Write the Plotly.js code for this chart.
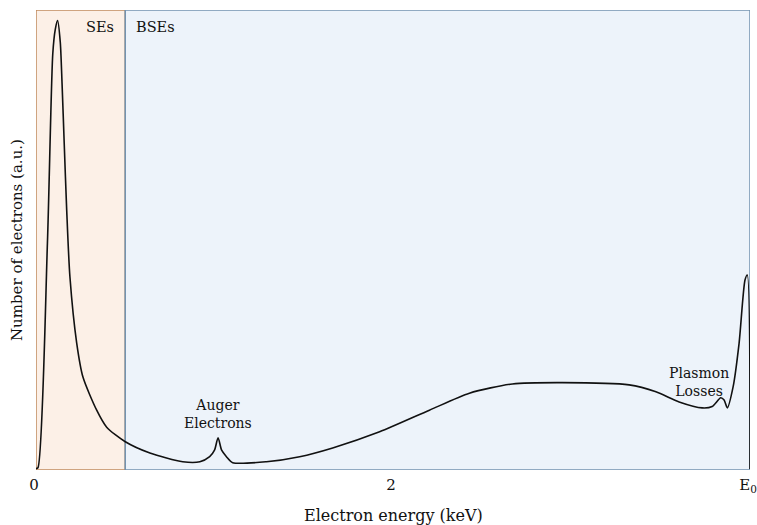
<!DOCTYPE html>
<html>
<head>
<meta charset="utf-8">
<script src="https://cdn.plot.ly/plotly-3.0.1.min.js"></script>
<style>html,body{margin:0;padding:0;background:#fff;}#chart{width:757px;height:525px;}</style>
</head>
<body>
<div id="chart"></div>
<script>
// Electron energy (keV, E0 = 4 on axis) and counts (a.u.)
const energy = [0, 0.011, 0.064, 0.094, 0.108, 0.121, 0.136, 0.146, 0.158, 0.172, 0.190, 0.228, 0.263, 0.340, 0.396, 0.498, 0.638, 0.822, 0.918, 0.973, 1.000, 1.020, 1.040, 1.067, 1.102, 1.291, 1.477, 1.662, 1.925, 2.204, 2.428, 2.669, 2.948, 3.323, 3.473, 3.603, 3.732, 3.788, 3.836, 3.855, 3.873, 3.905, 3.939, 3.972, 3.985, 4.0];
const counts = [0.3, 0.5, 49.3, 90.5, 95.8, 97.7, 93.0, 84.0, 71.1, 56.5, 42.0, 27.6, 20.2, 13.0, 9.3, 6.2, 3.7, 1.8, 1.8, 2.9, 4.3, 7.0, 4.3, 2.9, 1.6, 1.8, 2.9, 4.8, 8.3, 13.0, 16.7, 18.7, 19.0, 18.5, 17.0, 14.8, 13.5, 13.8, 15.7, 15.2, 13.5, 18, 27.6, 41.3, 42.4, 0.2];
const tickVals = [0, 2, 4];
const tickText = ['0', '2', 'E<sub>0</sub>'];
const regionNames = ['SEs', 'BSEs'];
const regionStart = [0, 0.5];
const regionEnd = [0.5, 4];

const serif = 'DejaVu Serif';

const trace = {
  x: energy, y: counts, type: 'scatter', mode: 'lines',
  line: {color: '#111', width: 1.6, shape: 'spline', smoothing: 0.7},
  hoverinfo: 'skip', showlegend: false
};

const layout = {
  width: 757, height: 525,
  margin: {l: 36, r: 7, t: 10, b: 55},
  paper_bgcolor: '#fff', plot_bgcolor: 'rgba(0,0,0,0)',
  font: {family: serif, color: '#111', size: 14},
  xaxis: {range: [0, 4], showgrid: false, zeroline: false, showline: false,
          tickvals: tickVals, ticktext: tickText, ticks: '', ticklabelstandoff: 4, ticklabelshift: -2,
          ticklabeloverflow: 'allow', tickfont: {family: serif, size: 15, color: '#111'}},
  yaxis: {range: [0, 100], showgrid: false, zeroline: false, showline: false, showticklabels: false, ticks: ''},
  shapes: [
    {type: 'rect', xref: 'x', yref: 'y', x0: regionStart[0], x1: regionEnd[0], y0: 0, y1: 100,
     fillcolor: '#fcf0e7', line: {color: '#c08a5f', width: 1.5}, layer: 'below'},
    {type: 'rect', xref: 'x', yref: 'y', x0: regionStart[1], x1: regionEnd[1], y0: 0, y1: 100,
     fillcolor: '#edf3fa', line: {color: '#7393b0', width: 1.5}, layer: 'below'}
  ],
  annotations: [
    {xref: 'x', yref: 'paper', x: 0.45, y: 0.985, text: regionNames[0], showarrow: false, xanchor: 'right', yanchor: 'top', font: {family: serif, size: 14.5}},
    {xref: 'x', yref: 'paper', x: 0.55, y: 0.985, text: regionNames[1], showarrow: false, xanchor: 'left', yanchor: 'top', font: {family: serif, size: 14.5}},
    {xref: 'x', yref: 'y', x: 1.02, y: 8.0, text: 'Auger<br>Electrons', showarrow: false, yanchor: 'bottom', font: {family: serif, size: 14}},
    {xref: 'x', yref: 'y', x: 3.715, y: 15.0, text: 'Plasmon<br>Losses', showarrow: false, yanchor: 'bottom', font: {family: serif, size: 14}},
    {xref: 'paper', yref: 'paper', x: 0.5, y: -0.098, text: 'Electron energy (keV)', showarrow: false, yanchor: 'middle', font: {family: serif, size: 16}},
    {xref: 'paper', yref: 'paper', x: -0.0266, y: 0.5, text: 'Number of electrons (a.u.)', textangle: -90, showarrow: false, xanchor: 'center', yanchor: 'middle', font: {family: serif, size: 15}}
  ]
};

Plotly.newPlot('chart', [trace], layout, {displayModeBar: false, staticPlot: true});
</script>
</body>
</html>
